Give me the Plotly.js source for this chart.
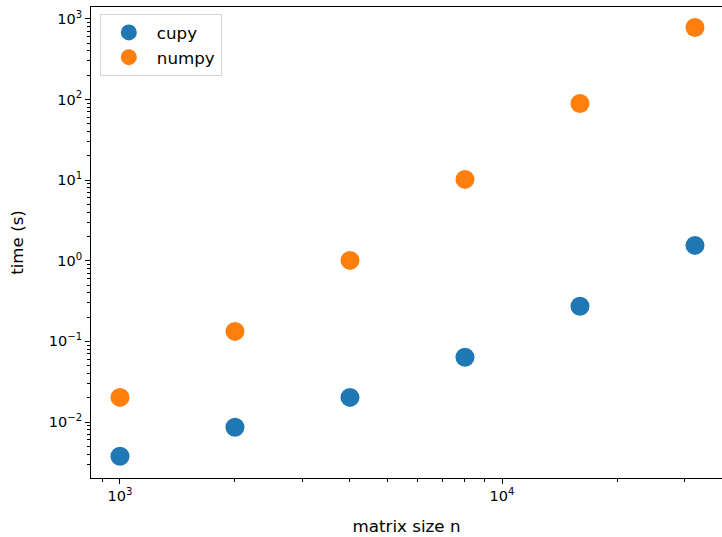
<!DOCTYPE html>
<html>
<head>
<meta charset="utf-8">
<script src="https://cdn.plot.ly/plotly-3.0.1.min.js"></script>
<style>html,body{margin:0;padding:0;background:#fff;overflow:hidden}</style>
</head>
<body>
<div id="chart" style="width:722px;height:537px"></div>
<script>
const matrixSizes = [1000, 2000, 4000, 8000, 16000, 32000];
const cupyTimes = [0.00376, 0.0086, 0.0202, 0.0634, 0.272, 1.55];
const numpyTimes = [0.0202, 0.133, 1.01, 10.2, 89, 780];
const seriesNames = ['cupy', 'numpy'];
const xTitle = 'matrix size n';
const yTitle = 'time (s)';
const xTickExps = [3, 4];
const yTickExps = [-2, -1, 0, 1, 2, 3];
const minorDigits = [2, 3, 4, 5, 6, 7, 8, 9];

function majorVals(exps) { return exps.map(e => Math.pow(10, e)); }
function majorText(exps) { return exps.map(e => '10<sup>' + (e < 0 ? '\u2212' + (-e) : e) + '</sup>'); }
function minorVals(exps) {
  const out = [];
  exps.forEach(e => minorDigits.forEach(d => out.push(d * Math.pow(10, e))));
  return out;
}

const tickFont = {family: 'DejaVu Sans, sans-serif', size: 14.5, color: '#000'};
const labelFont = {family: 'DejaVu Sans, sans-serif', size: 16.7, color: '#000'};
const traces = [
  {x: matrixSizes, y: cupyTimes, name: seriesNames[0], mode: 'markers', type: 'scatter',
   marker: {color: '#1f77b4', size: 19}},
  {x: matrixSizes, y: numpyTimes, name: seriesNames[1], mode: 'markers', type: 'scatter',
   marker: {color: '#ff7f0e', size: 19}}
];
const layout = {
  width: 722, height: 537,
  margin: {l: 91, r: 0, t: 7, b: 59, pad: 0},
  paper_bgcolor: '#fff', plot_bgcolor: '#fff',
  font: tickFont,
  showlegend: true,
  legend: {x: 0.014, y: 0.985, xanchor: 'left', yanchor: 'top',
    bordercolor: '#d4d4d4', borderwidth: 1, bgcolor: 'rgba(255,255,255,0.8)',
    itemwidth: 46,
    font: labelFont},
  xaxis: {
    type: 'log', range: [2.9241, 4.5759],
    tickmode: 'array', tickvals: majorVals(xTickExps), ticktext: majorText(xTickExps),
    showgrid: false, zeroline: false,
    showline: true, linecolor: '#000', linewidth: 1, mirror: true,
    ticks: 'outside', ticklen: 5, tickcolor: '#000', tickwidth: 1,
    minor: {tickmode: 'array', tickvals: minorVals([2, 3, 4]), ticks: 'outside', ticklen: 3, tickcolor: '#000', showgrid: false},
    tickfont: tickFont,
    title: {text: xTitle, font: labelFont, standoff: 16}
  },
  yaxis: {
    type: 'log', range: [-2.694, 3.146],
    tickmode: 'array', tickvals: majorVals(yTickExps), ticktext: majorText(yTickExps),
    showgrid: false, zeroline: false,
    showline: true, linecolor: '#000', linewidth: 1, mirror: false,
    ticks: 'outside', ticklen: 5, tickcolor: '#000', tickwidth: 1,
    minor: {tickmode: 'array', tickvals: minorVals([-3, -2, -1, 0, 1, 2, 3]), ticks: 'outside', ticklen: 3, tickcolor: '#000', showgrid: false},
    tickfont: tickFont,
    title: {text: yTitle, font: labelFont, standoff: 20}
  }
};
Plotly.newPlot('chart', traces, layout, {displayModeBar: false, staticPlot: true});
</script>
</body>
</html>
